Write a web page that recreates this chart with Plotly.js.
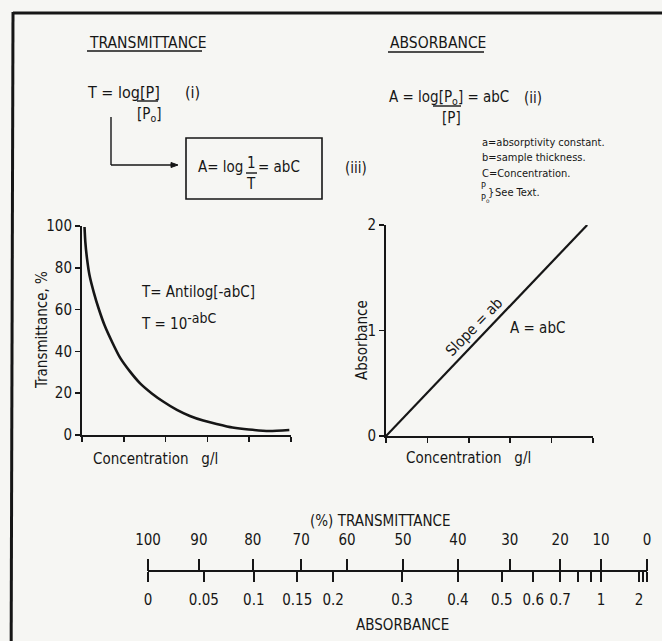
<!DOCTYPE html>
<html>
<head>
<meta charset="utf-8">
<script src="https://cdn.plot.ly/plotly-3.0.1.min.js"></script>
<style>html,body{margin:0;padding:0;background:#f6f6f3;}#chart{width:662px;height:641px;}</style>
</head>
<body>
<div id="chart"></div>
<script>
// ---- Data ----
// Left panel: transmittance (%) vs concentration (arbitrary g/l units)
var transConc = [0.06, 0.08, 0.12, 0.18, 0.28, 0.40, 0.54, 0.72, 0.91, 1.15, 1.39, 1.67, 1.95, 2.27, 2.58, 2.90, 3.22, 3.60, 3.99, 4.48, 4.96];
var transPct  = [99.5, 92.3, 84.4, 76.4, 68.4, 60.4, 52.5, 44.5, 37.0, 30.3, 24.7, 19.9, 15.9, 12.0, 9.1, 6.9, 5.3, 3.6, 2.6, 1.9, 2.4];
var transYTicks = [0, 20, 40, 60, 80, 100];
var concTicks = [0, 1, 2, 3, 4, 5];

// Right panel: absorbance vs concentration (straight line)
var absConc = [0, 4.86];
var absVal  = [0, 2];
var absYTicks = [0, 1, 2];

// Bottom conversion scale, positions expressed on the %T scale (100 left .. 0 right)
var scaleEnds = [100, 0];
var tScalePos    = [100, 89.8, 79.0, 69.3, 60.1, 48.9, 37.9, 27.5, 17.4, 9.2, 0];
var tScaleLabels = ['100', '90', '80', '70', '60', '50', '40', '30', '20', '10', '0'];
var aScalePos    = [100, 88.8, 78.8, 70.1, 62.9, 49.1, 37.9, 29.1, 22.8, 17.4, 13.8, 11.2, 9.2, 1.6, 0.8, 0];
var aScaleLabels = ['0', '0.05', '0.1', '0.15', '0.2', '0.3', '0.4', '0.5', '0.6', '0.7', '', '', '1', '2', '', ''];

// ---- Helpers ----
var W = 662, H = 641;
function px(x) { return x / W; }
function py(y) { return 1 - y / H; }
var FONT = "'Liberation Sans Narrow', 'DejaVu Sans Condensed', 'Arial Narrow', 'Liberation Sans', sans-serif";
var INK = '#161616';

var traces = [
  { x: transConc, y: transPct, xaxis: 'x', yaxis: 'y', mode: 'lines', line: { color: INK, width: 2.6, shape: 'spline', smoothing: 0.6 }, hoverinfo: 'skip', showlegend: false },
  { x: absConc, y: absVal, xaxis: 'x2', yaxis: 'y2', mode: 'lines', line: { color: INK, width: 2.2 }, hoverinfo: 'skip', showlegend: false },
  { x: scaleEnds, y: [0, 0], xaxis: 'x4', yaxis: 'y3', mode: 'lines', line: { color: INK, width: 2 }, hoverinfo: 'skip', showlegend: false },
  { x: scaleEnds, y: [0, 0], xaxis: 'x3', yaxis: 'y3', mode: 'lines', line: { color: INK, width: 0 }, opacity: 0, hoverinfo: 'skip', showlegend: false }
];

var axisBase = {
  showgrid: false, zeroline: false, showline: true, linecolor: INK, linewidth: 2,
  ticks: 'outside', tickcolor: INK, tickwidth: 1.6, ticklen: 5,
  tickfont: { family: FONT, size: 15, color: INK }, fixedrange: true
};
function ax(o) { return Object.assign({}, axisBase, o); }

function txt(x, y, text, size, extra) {
  return Object.assign({ xref: 'paper', yref: 'paper', x: px(x), y: py(y), text: text, showarrow: false,
    xanchor: 'left', yanchor: 'middle', font: { family: FONT, size: size, color: INK } }, extra || {});
}
function seg(x0, y0, x1, y1, w) {
  return { type: 'line', xref: 'paper', yref: 'paper', x0: px(x0), y0: py(y0), x1: px(x1), y1: py(y1), line: { color: INK, width: w || 1.4 } };
}

var annotations = [
  txt(87, 43, 'TRANSMITTANCE', 15.5),
  txt(388, 43, 'ABSORBANCE', 15.5),
  txt(85, 92, 'T = log[P]', 16),
  txt(183, 92, '(i)', 16),
  txt(135, 114, '[P<sub>o</sub>]', 15),
  txt(387, 98, 'A = log[P<sub>o</sub>] = abC', 15),
  txt(522, 98, '(ii)', 15),
  txt(440, 118, '[P]', 15),
  txt(245, 167, 'A= log', 15, { xanchor: 'right' }),
  txt(251, 163, '1', 15, { xanchor: 'center' }),
  txt(251, 184, 'T', 15, { xanchor: 'center' }),
  txt(256, 167, '= abC', 15),
  txt(343, 168, '(iii)', 15),
  txt(480, 143, 'a=absorptivity constant.', 11),
  txt(480, 158, 'b=sample thickness.', 11),
  txt(480, 174, 'C=Concentration.', 11),
  txt(479, 186, 'P', 9),
  txt(479, 198, 'P<sub>o</sub>', 9),
  txt(486, 192, '}', 11),
  txt(493, 192, 'See Text.', 11),
  // left chart
  txt(139, 292, 'T= Antilog[-abC]', 15),
  txt(139, 322, 'T = 10<sup><span style="font-size:14px">-abC</span></sup>', 15),
  txt(42, 330, 'Transmittance, %', 15, { xanchor: 'center', textangle: -90 }),
  txt(155, 459, 'Concentration\u00a0\u00a0\u00a0g/l', 15, { xanchor: 'center' }),
  // right chart
  txt(474, 327, 'Slope = ab', 15, { xanchor: 'center', textangle: -46 }),
  txt(537, 328, 'A = abC', 15, { xanchor: 'center' }),
  txt(362, 340, 'Absorbance', 15, { xanchor: 'center', textangle: -90 }),
  txt(468, 458, 'Concentration\u00a0\u00a0\u00a0g/l', 15, { xanchor: 'center' }),
  // bottom scale
  txt(380, 521, '(%) TRANSMITTANCE', 15, { xanchor: 'center' }),
  txt(402, 625, 'ABSORBANCE', 15, { xanchor: 'center' })
];

var shapes = [
  // frame (top and left edges; right and bottom run off the page)
  seg(13, 13, 700, 13, 3),
  seg(13, 12, 11, 700, 3),
  // underlines
  seg(87, 51, 202, 51, 1.4),
  seg(388, 52, 484, 52, 1.4),
  // fraction bars
  seg(137, 101, 158, 101, 1.4),
  seg(433, 106, 461, 106, 1.4),
  seg(246, 173, 257, 173, 1.4),
  // connector arrow
  seg(111, 117, 111, 165, 1.4),
  seg(111, 165, 172, 165, 1.4),
  { type: 'path', xref: 'paper', yref: 'paper',
    path: 'M ' + px(171) + ' ' + py(162.5) + ' L ' + px(178) + ' ' + py(165) + ' L ' + px(171) + ' ' + py(167.5) + ' Z',
    fillcolor: INK, line: { color: INK, width: 1 } },
  // box
  { type: 'rect', xref: 'paper', yref: 'paper', x0: px(186), y0: py(138), x1: px(322), y1: py(199), line: { color: INK, width: 1.6 } }
];

var layout = {
  width: W, height: H,
  margin: { l: 0, r: 0, t: 0, b: 0, pad: 0 },
  paper_bgcolor: '#f6f6f3', plot_bgcolor: 'rgba(0,0,0,0)',
  showlegend: false,
  xaxis: ax({ domain: [px(82), px(291)], range: [0, 5], tickvals: concTicks, showticklabels: false, anchor: 'y' }),
  yaxis: ax({ domain: [py(435), py(226)], range: [0, 100], tickvals: transYTicks, anchor: 'x' }),
  xaxis2: ax({ domain: [px(386), px(593)], range: [0, 5], tickvals: concTicks, showticklabels: false, anchor: 'y2' }),
  yaxis2: ax({ domain: [py(436), py(225)], range: [0, 2], tickvals: absYTicks, anchor: 'x2' }),
  xaxis3: ax({ domain: [px(148), px(647)], range: [100, 0], anchor: 'free', position: py(571), side: 'bottom',
               showline: false, ticklen: 10, tickvals: aScalePos, ticktext: aScaleLabels, ticklabelstandoff: 5 }),
  xaxis4: ax({ range: [100, 0], overlaying: 'x3', anchor: 'free', position: py(571), side: 'top',
               showline: false, ticklen: 12, tickvals: tScalePos, ticktext: tScaleLabels, ticklabelstandoff: 8 }),
  yaxis3: { domain: [py(580), py(562)], range: [-1, 1], visible: false, anchor: 'x3', fixedrange: true },
  annotations: annotations,
  shapes: shapes
};

Plotly.newPlot('chart', traces, layout, { displayModeBar: false, staticPlot: true });
</script>
</body>
</html>
